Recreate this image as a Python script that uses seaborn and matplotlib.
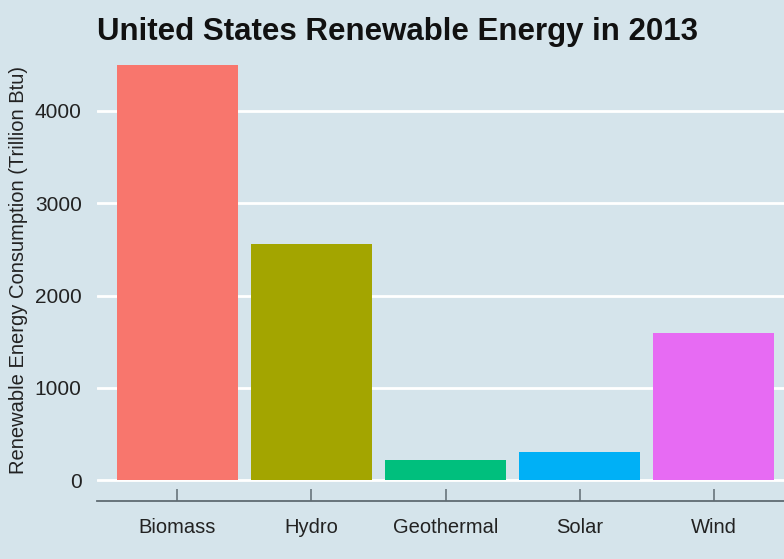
import matplotlib
matplotlib.use("Agg")
import matplotlib.pyplot as plt
import seaborn as sns
import pandas as pd

# Renewable energy consumption in 2013 (trillion Btu)
sources = ["Biomass", "Hydro", "Geothermal", "Solar", "Wind"]
consumption = [4500, 2560, 220, 310, 1600]
colors = ["#F8766D", "#A3A500", "#00BF7D", "#00B0F6", "#E76BF3"]
y_ticks = [0, 1000, 2000, 3000, 4000]

df = pd.DataFrame({"source": sources, "consumption": consumption})

bg = "#d5e4eb"
sns.set_theme(style="white")
plt.rcParams["font.family"] = ["Liberation Sans", "DejaVu Sans"]

fig = plt.figure(figsize=(7.84, 5.59), dpi=100, facecolor=bg)
ax = fig.add_axes([97 / 784, 58 / 559, (794 - 97) / 784, (501 - 44) / 559])
ax.set_facecolor(bg)

sns.barplot(data=df, x="source", y="consumption", hue="source", order=sources,
            palette=colors, width=0.9, saturation=1, legend=False, ax=ax,
            linewidth=0, edgecolor="none", zorder=3)

ax.set_xlim(-0.6, 4.6)
ax.set_ylim(-225, 4725)
ax.set_yticks(y_ticks)
ax.yaxis.grid(True, color="white", linewidth=2, zorder=0)
ax.set_axisbelow(True)

for side in ["top", "right", "left"]:
    ax.spines[side].set_visible(False)
ax.spines["bottom"].set_color("#5f6b72")
ax.spines["bottom"].set_linewidth(1.3)

ax.tick_params(axis="x", bottom=True, direction="in", length=9, width=1.1,
               color="#5f6b72", labelsize=14.5, labelcolor="#222222", pad=12)
ax.tick_params(axis="y", left=False, labelsize=15, labelcolor="#222222", pad=5)

ax.set_xlabel("")
ax.set_ylabel("Renewable Energy Consumption (Trillion Btu)", fontsize=14.5,
              color="#222222")
ax.yaxis.set_label_coords(19 / 784, 1 - 270 / 559, transform=fig.transFigure)
ax.yaxis.label.set_va("center")
fig.text(97 / 784, 1 - 32 / 559, "United States Renewable Energy in 2013",
         fontsize=22.5, fontweight="bold", color="#111111", va="center", ha="left")

fig.savefig("out.png", dpi=100, facecolor=bg)
